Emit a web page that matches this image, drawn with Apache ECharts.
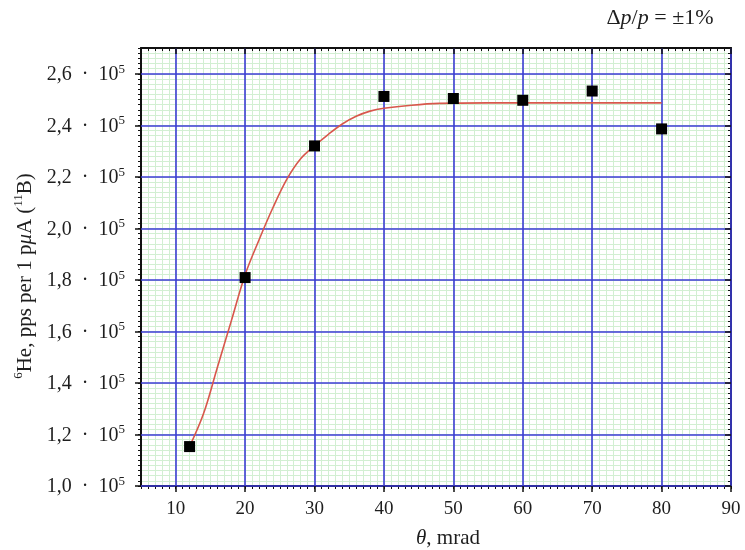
<!DOCTYPE html>
<html>
<head>
<meta charset="utf-8">
<script src="https://cdn.jsdelivr.net/npm/echarts@6/dist/echarts.min.js"></script>
<style>html,body{margin:0;padding:0;background:#fff}#c{width:745px;height:550px}</style>
</head>
<body>
<div id="c"></div>
<script>
// Measured points
const pointX = [12, 20, 30, 40, 50, 60, 70, 80];
const pointY = [1.153, 1.809, 2.32, 2.512, 2.504, 2.497, 2.533, 2.386];
// Fitted curve
const fitX = [12, 14, 16, 18, 20, 22, 24, 26, 28, 30, 32, 34, 36, 38, 40, 44, 48, 55, 80];
const fitY = [1.153, 1.28, 1.46, 1.64, 1.82, 1.955, 2.08, 2.19, 2.27, 2.32, 2.365, 2.405, 2.435, 2.455, 2.466, 2.478, 2.485, 2.487, 2.487];
// Axis ranges and tick labels
const xRange = [5, 90];
const yRange = [1.0, 2.7];
const xTicks = [10, 20, 30, 40, 50, 60, 70, 80, 90];
const yTicks = [1.0, 1.2, 1.4, 1.6, 1.8, 2.0, 2.2, 2.4, 2.6];

const SERIF = "'Liberation Serif','DejaVu Serif',serif";
const BLUE = '#3c3cd4';
const GREEN = '#d2efd2';
const TXT = '#1e1e1e';
const AX = '#111';

// plot box
const L = 141, R = 14, T = 48, B = 64, W = 745 - L - R, H = 550 - T - B;
// offsets of the major-tick sub-grids (first major tick inside the range)
const xOff = W * (xTicks[0] - xRange[0]) / (xRange[1] - xRange[0]);
const yOff = H * (yRange[1] - yTicks[yTicks.length - 1]) / (yRange[1] - yRange[0]);

const hidden = { axisLine: { show: false }, axisTick: { show: false }, axisLabel: { show: false }, splitLine: { show: false } };

const chart = echarts.init(document.getElementById('c'));
chart.setOption({
  animation: false,
  backgroundColor: '#fff',
  grid: [
    { left: L, right: R, top: T, bottom: B },               // 0: main (data + minor grid)
    { left: L + xOff, right: R, top: T, bottom: B },        // 1: x major
    { left: L, right: R, top: T + yOff, bottom: B }         // 2: y major
  ],
  xAxis: [
    { // 0 main bottom: minor grid + minor ticks
      gridIndex: 0, type: 'value', position: 'bottom', min: xRange[0], max: xRange[1], interval: 1, z: 1,
      axisLine: { show: true, onZero: false, lineStyle: { color: AX, width: 2 } },
      axisTick: { show: true, inside: false, length: 3, lineStyle: { color: AX, width: 1 } },
      axisLabel: { show: false },
      splitLine: { show: true, lineStyle: { color: GREEN, width: 1 } }
    },
    { // 1 main top
      gridIndex: 0, type: 'value', position: 'top', min: xRange[0], max: xRange[1], interval: 1, z: 1,
      axisLine: { show: true, onZero: false, lineStyle: { color: AX, width: 2 } },
      axisTick: { show: true, inside: true, length: 3, lineStyle: { color: AX, width: 1 } },
      axisLabel: { show: false },
      splitLine: { show: false }
    },
    { // 2 major bottom
      gridIndex: 1, type: 'value', position: 'bottom', min: xTicks[0], max: xTicks[xTicks.length - 1], interval: 10, z: 2,
      axisLine: { show: false, onZero: false },
      axisTick: { show: true, inside: false, length: 6, lineStyle: { color: AX, width: 1.5 } },
      axisLabel: { show: true, margin: 14, fontFamily: SERIF, fontSize: 19, color: TXT },
      splitLine: { show: true, lineStyle: { color: BLUE, width: 1.6 } }
    },
    { // 3 major top
      gridIndex: 1, type: 'value', position: 'top', min: xTicks[0], max: xTicks[xTicks.length - 1], interval: 10, z: 2,
      axisLine: { show: false, onZero: false },
      axisTick: { show: true, inside: true, length: 6, lineStyle: { color: AX, width: 1.5 } },
      axisLabel: { show: false },
      splitLine: { show: false }
    },
    Object.assign({ gridIndex: 2, type: 'value', min: xRange[0], max: xRange[1] }, hidden)
  ],
  yAxis: [
    { // 0 main left
      gridIndex: 0, type: 'value', position: 'left', min: yRange[0], max: yRange[1], interval: 0.02, z: 1,
      axisLine: { show: true, onZero: false, lineStyle: { color: AX, width: 2 } },
      axisTick: { show: true, inside: false, length: 3, lineStyle: { color: AX, width: 1 } },
      axisLabel: { show: false },
      splitLine: { show: true, lineStyle: { color: GREEN, width: 1 } }
    },
    { // 1 main right
      gridIndex: 0, type: 'value', position: 'right', min: yRange[0], max: yRange[1], interval: 0.02, z: 1,
      axisLine: { show: true, onZero: false, lineStyle: { color: AX, width: 2 } },
      axisTick: { show: true, inside: true, length: 3, lineStyle: { color: AX, width: 1 } },
      axisLabel: { show: false },
      splitLine: { show: false }
    },
    Object.assign({ gridIndex: 1, type: 'value', min: yRange[0], max: yRange[1] }, hidden),
    { // 3 major left
      gridIndex: 2, type: 'value', position: 'left', min: yTicks[0], max: yTicks[yTicks.length - 1], interval: 0.2, z: 2,
      axisLine: { show: false, onZero: false },
      axisTick: { show: true, inside: false, length: 6, lineStyle: { color: AX, width: 1.5 } },
      axisLabel: {
        show: true, margin: 16,
        formatter: v => '{a|' + v.toFixed(1).replace('.', ',') + '\u2002\u00B7\u200210}{s|5}',
        rich: {
          a: { fontFamily: SERIF, fontSize: 20, color: TXT, lineHeight: 22, verticalAlign: 'bottom' },
          s: { fontFamily: SERIF, fontSize: 13, color: TXT, lineHeight: 13, verticalAlign: 'top' }
        }
      },
      splitLine: { show: true, lineStyle: { color: BLUE, width: 1.6 } }
    },
    { // 4 major right
      gridIndex: 2, type: 'value', position: 'right', min: yTicks[0], max: yTicks[yTicks.length - 1], interval: 0.2, z: 2,
      axisLine: { show: false, onZero: false },
      axisTick: { show: true, inside: true, length: 6, lineStyle: { color: AX, width: 1.5 } },
      axisLabel: { show: false },
      splitLine: { show: false }
    }
  ],
  graphic: [
    {
      type: 'text', x: 24, y: 276, rotation: Math.PI / 2,
      style: {
        text: '{s|6}{a|He, pps per 1 p}{i|\u03BC}{a|A (}{s|11}{a|B)}',
        align: 'center', verticalAlign: 'middle',
        rich: {
          a: { fontFamily: SERIF, fontSize: 21, fill: TXT, lineHeight: 24, verticalAlign: 'bottom' },
          i: { fontFamily: SERIF, fontSize: 21, fontStyle: 'italic', fill: TXT, lineHeight: 24, verticalAlign: 'bottom' },
          s: { fontFamily: SERIF, fontSize: 13, fill: TXT, lineHeight: 13, verticalAlign: 'top' }
        }
      }
    },
    {
      type: 'text', x: 448, y: 538,
      style: {
        text: '{i|\u03B8}{a|, mrad}',
        align: 'center', verticalAlign: 'middle',
        rich: {
          a: { fontFamily: SERIF, fontSize: 21, fill: TXT },
          i: { fontFamily: SERIF, fontSize: 21, fontStyle: 'italic', fill: TXT }
        }
      }
    },
    {
      type: 'text', x: 660, y: 18,
      style: {
        text: '{a|\u0394}{i|p}{a|/}{i|p}{a| = \u00B11%}',
        align: 'center', verticalAlign: 'middle',
        rich: {
          a: { fontFamily: SERIF, fontSize: 22, fill: TXT },
          i: { fontFamily: SERIF, fontSize: 22, fontStyle: 'italic', fill: TXT }
        }
      }
    }
  ],
  series: [
    {
      type: 'line', xAxisIndex: 0, yAxisIndex: 0,
      data: fitX.map((x, i) => [x, fitY[i]]),
      smooth: 0.35, showSymbol: false, symbol: 'none',
      lineStyle: { color: '#d8574c', width: 1.6 }, z: 5
    },
    {
      type: 'scatter', xAxisIndex: 0, yAxisIndex: 0,
      data: pointX.map((x, i) => [x, pointY[i]]),
      symbol: 'rect', symbolSize: 11,
      itemStyle: { color: '#000', opacity: 1 }, z: 6
    }
  ]
});
</script>
</body>
</html>
